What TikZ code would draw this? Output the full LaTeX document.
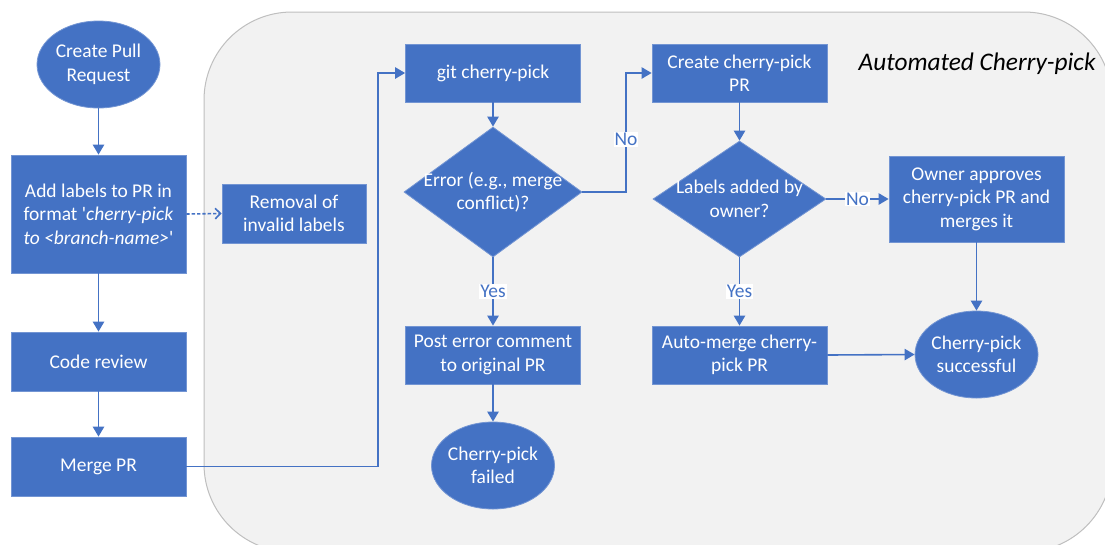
\documentclass[tikz,border=0pt]{standalone}
\usepackage{fontspec}
\setmainfont{Carlito}
\usetikzlibrary{shapes.geometric,arrows.meta}
\definecolor{boxblue}{HTML}{4472C4}
\definecolor{panelgray}{HTML}{F2F2F2}
\definecolor{panelline}{HTML}{BFBFBF}
\begin{document}
\begin{tikzpicture}[x=0.75pt,y=-0.75pt,
  every node/.style={font=\fontsize{14.6}{17.6}\selectfont},
  base/.style={fill=boxblue, draw=boxblue!75!white, line width=0.6pt, text=white, align=center, inner sep=0pt},
  stepbox/.style={base, rectangle, minimum width=131.25pt, minimum height=43.5pt},
  terminal/.style={base, ellipse, minimum width=92.25pt, minimum height=65.25pt},
  decision/.style={base, diamond},
  inside/.style={text=white, align=center, inner sep=0pt},
  arr/.style={draw=boxblue, line width=1.2pt, -{Triangle[length=7.5pt,width=8.5pt]}},
  dasharr/.style={draw=boxblue, line width=1.2pt, dash pattern=on 2.5pt off 1.5pt, -{Straight Barb[length=4pt,width=8pt]}},
  lbl/.style={fill=white, text=boxblue, inner sep=0.8pt}
]
\clip (0,0) rectangle (1105,544);

% shaded panel of the automated part
\draw[fill=panelgray, draw=panelline, line width=0.75pt, rounded corners=66pt] (204,12) rectangle (1112,552);
\node[font=\fontsize{19}{22}\selectfont\itshape, anchor=west] (title) at (854,64) {Automated Cherry-pick};

% manual steps
\node[terminal, label={[inside]center:Create Pull\\Request}] (start) at (98.5,64.5) {};
\node[stepbox, minimum height=88.5pt] (addlbl) at (98.5,214)
  {Add labels to PR in\\format \textquotesingle\textit{cherry-pick}\\\textit{to <branch-name>}\textquotesingle};
\node[stepbox, minimum width=108pt, minimum height=44.25pt] (removal) at (294,213.5) {Removal of\\invalid labels};
\node[stepbox, minimum height=44.25pt] (review) at (98.5,361.5) {Code review};
\node[stepbox, minimum height=44.25pt] (merge) at (98.5,466.5) {Merge PR};

% automated steps
\node[stepbox] (git) at (493,73) {git cherry-pick};
\node[decision, minimum width=133.5pt, minimum height=97.5pt,
      label={[inside]center:Error (e.g., merge\\conflict)?}] (err) at (493,192) {};
\node[stepbox] (post) at (493,355) {Post error comment\\to original PR};
\node[terminal, label={[inside]center:Cherry-pick\\failed}] (failed) at (493,465.5) {};
\node[stepbox] (cppr) at (739.5,73) {Create cherry-pick\\PR};
\node[decision, minimum width=129.75pt, minimum height=87pt,
      label={[inside]center:Labels added by\\owner?}] (labq) at (739.5,199) {};
\node[stepbox, minimum height=64.5pt] (owner) at (976.5,199) {Owner approves\\cherry-pick PR and\\merges it};
\node[stepbox] (auto) at (739.5,355) {Auto-merge cherry-\\pick PR};
\node[terminal, label={[inside]center:Cherry-pick\\successful}] (success) at (976.5,354.5) {};

% connectors
\coordinate (jogA) at (378,466.5);
\coordinate (jogB) at (626,192);
\draw[arr] (start) -- (addlbl);
\draw[dasharr] (addlbl.east) -- (removal.west);
\draw[arr] (addlbl) -- (review);
\draw[arr] (review) -- (merge);
\draw[arr] (merge.east) -- (jogA) |- (git.west);
\draw[arr] (git) -- (err);
\draw[arr] (err.east) -- (jogB) |- node[lbl, pos=0.22] (noA) {No} (cppr.west);
\draw[arr] (err) -- node[lbl] (yesA) {Yes} (post);
\draw[arr] (post) -- (failed);
\draw[arr] (cppr) -- (labq);
\draw[arr] (labq) -- node[lbl] (noB) {No} (owner);
\draw[arr] (labq) -- node[lbl] (yesB) {Yes} (auto);
\draw[arr] (owner) -- (success);
\draw[arr] (auto.east) -- (success.west);
\end{tikzpicture}
\end{document}
